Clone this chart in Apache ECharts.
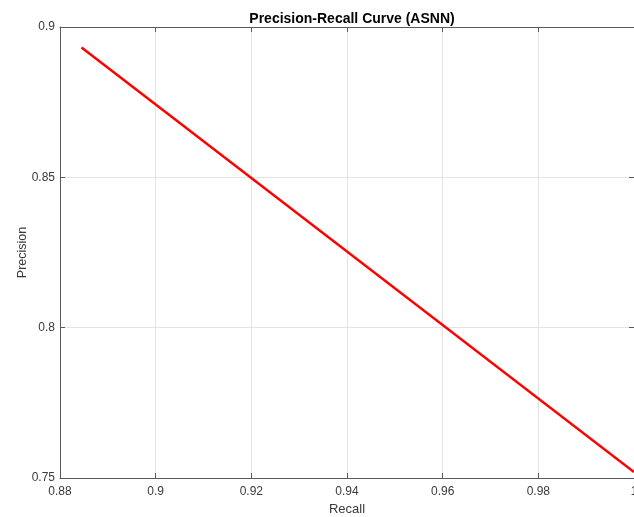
<!DOCTYPE html>
<html>
<head>
<meta charset="utf-8">
<script src="https://cdn.jsdelivr.net/npm/echarts@6/dist/echarts.min.js"></script>
<style>
  html, body { margin: 0; padding: 0; background: #fff; }
  #chart { width: 634px; height: 517px; }
</style>
</head>
<body>
<div id="chart"></div>
<script>
// Precision-recall curve of the ASNN classifier
const recall = [0.8845, 1.0];
const precision = [0.8932, 0.752];
const xTicks = [0.88, 0.90, 0.92, 0.94, 0.96, 0.98, 1.0];
const yTicks = [0.75, 0.80, 0.85, 0.90];

const fontFamily = '"Liberation Sans", Arial, Helvetica, sans-serif';
const labelColor = '#3a3a3a';
const gridColor = '#e3e3e3';

const chart = echarts.init(document.getElementById('chart'), null, { renderer: 'canvas' });

const baseX = {
  type: 'value',
  min: xTicks[0],
  max: xTicks[xTicks.length - 1],
  interval: 0.02,
  axisLine: { show: true, onZero: false, lineStyle: { color: '#5a5a5a', width: 1 } },
  axisTick: { show: true, inside: true, length: 5, lineStyle: { color: '#5a5a5a' } },
  splitLine: { show: false }
};
const baseY = {
  type: 'value',
  min: yTicks[0],
  max: yTicks[yTicks.length - 1],
  interval: 0.05,
  axisLine: { show: true, onZero: false, lineStyle: { color: '#5a5a5a', width: 1 } },
  axisTick: { show: true, inside: true, length: 5, lineStyle: { color: '#5a5a5a' } },
  splitLine: { show: false }
};

chart.setOption({
  animation: false,
  backgroundColor: '#ffffff',
  title: {
    text: 'Precision-Recall Curve (ASNN)',
    left: 347,
    textAlign: 'center',
    top: 7,
    textStyle: { fontFamily, fontSize: 14, fontWeight: 'bold', color: '#000' }
  },
  grid: { left: 60, right: 0, top: 27, bottom: 39, containLabel: false, outerBoundsMode: 'none' },
  xAxis: [
    Object.assign({}, baseX, {
      position: 'bottom',
      name: 'Recall',
      nameLocation: 'middle',
      nameGap: 25,
      nameMoveOverlap: false,
      nameTextStyle: { fontFamily, fontSize: 13, color: labelColor },
      axisLabel: { fontFamily, fontSize: 12, color: labelColor, margin: 8,
        formatter: v => String(+v.toFixed(2)) },
      splitLine: { show: true, lineStyle: { color: gridColor, width: 1 } }
    }),
    Object.assign({}, baseX, { position: 'top', axisLabel: { show: false } })
  ],
  yAxis: [
    Object.assign({}, baseY, {
      position: 'left',
      name: 'Precision',
      nameLocation: 'middle',
      nameGap: 31,
      nameMoveOverlap: false,
      nameTextStyle: { fontFamily, fontSize: 12.5, color: labelColor },
      axisLabel: { fontFamily, fontSize: 12, color: labelColor, margin: 5,
        formatter: v => String(+v.toFixed(2)) },
      splitLine: { show: true, lineStyle: { color: gridColor, width: 1 } }
    }),
    Object.assign({}, baseY, { position: 'right', axisLabel: { show: false } })
  ],
  series: [{
    type: 'line',
    data: recall.map((r, i) => [r, precision[i]]),
    showSymbol: false,
    lineStyle: { color: '#ff0000', width: 2.5 },
    xAxisIndex: 0,
    yAxisIndex: 0
  }]
});
</script>
</body>
</html>
